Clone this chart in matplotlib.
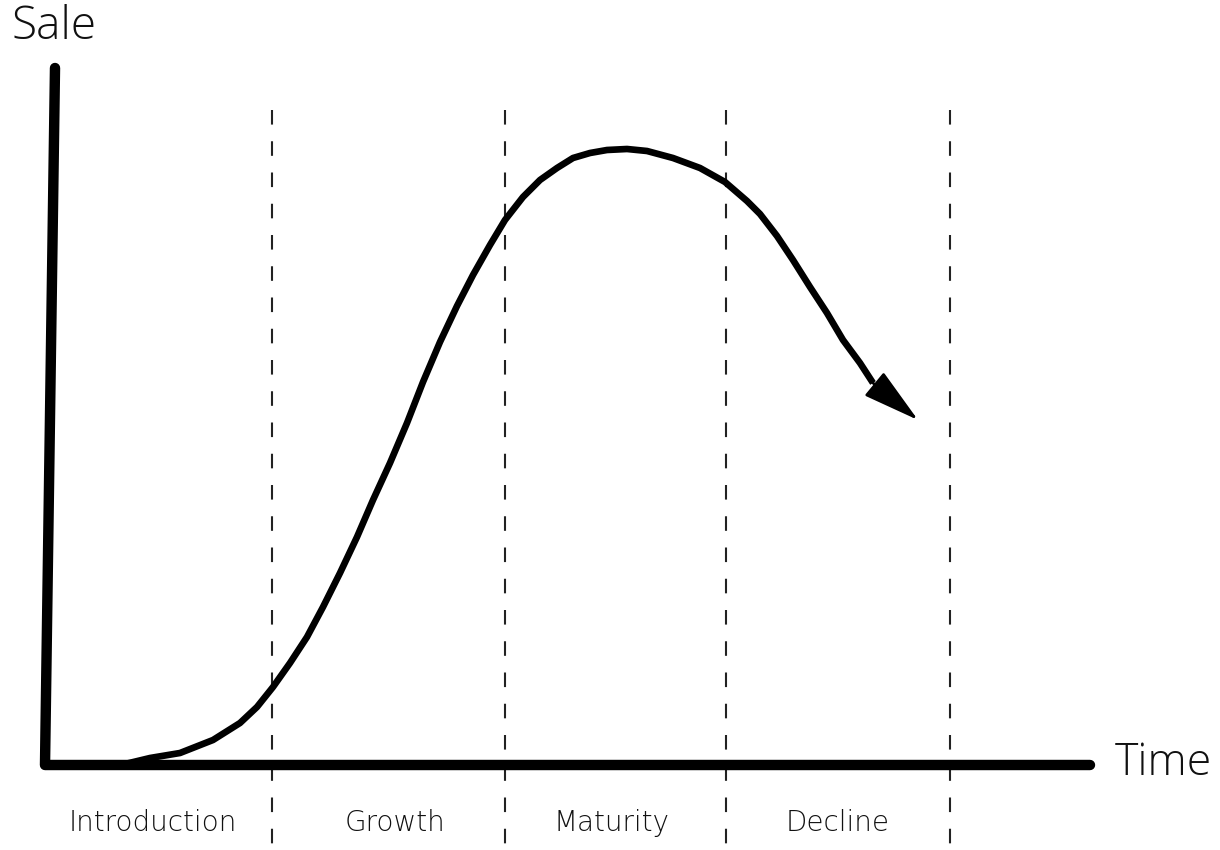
import matplotlib.pyplot as plt

# product life cycle: time / sales (origin = axis corner)
stages = ["Introduction", "Growth", "Maturity", "Decline"]
stage_edges = [227, 460, 681, 905]        # dashed separators on the time axis
stage_mid = [108, 350, 566, 793]          # label centres

curve_t = [80, 105, 135, 168, 195, 212, 228, 245, 262, 278, 295, 312, 328, 345,
           362, 378, 395, 412, 428, 445, 460, 478, 495, 512, 528, 545, 562, 582,
           602, 628, 655, 680, 702, 715, 732, 748, 765, 782, 798, 815, 828]
curve_s = [1, 7, 12, 25, 42, 58, 78, 102, 128, 158, 192, 228, 265, 302,
           342, 383, 423, 459, 490, 520, 545, 568, 585, 597, 607, 612, 615, 616,
           614, 607, 597, 583, 564, 551, 529, 505, 478, 452, 425, 402, 382]
arrow_tip = (873, 345)

fig = plt.figure(figsize=(12.2, 8.5), dpi=100)
ax = fig.add_axes([0, 0, 1, 1])
ax.set_xlim(-45, 1175)
ax.set_ylim(-85, 765)
ax.axis("off")

# axes drawn by hand (the vertical one leans a little)
ax.plot([10, 0, 1045], [697, 0, 0], color="black", lw=7.5,
        solid_capstyle="round", solid_joinstyle="round", zorder=3)

# stage separators
for e in stage_edges:
    ax.plot([e, e], [655, -80], color="#222222", lw=1.5, dashes=(7, 8), zorder=1)

# sales curve + arrow head
ax.plot(curve_t, curve_s, color="black", lw=4.8, solid_capstyle="butt",
        solid_joinstyle="round", zorder=4)
ax.annotate("", xy=arrow_tip, xytext=(curve_t[-1], curve_s[-1]),
            arrowprops=dict(arrowstyle="-|>,head_length=3.6,head_width=0.95",
                            color="black", lw=2, shrinkA=0, shrinkB=0),
            zorder=5)

fam = ["Open Sans", "DejaVu Sans"]
ax.text(-33, 738, "Sale", fontsize=33, family=fam, fontweight="light",
        ha="left", va="center", color="#111111")
ax.text(1070, 1, "Time", fontsize=32, family=fam, fontweight="light",
        ha="left", va="center", color="#111111")

for name, m in zip(stages, stage_mid):
    ax.text(m, -58, name, fontsize=20, family=["DejaVu Sans"], fontweight="light",
            ha="center", va="center", color="#111111")

fig.savefig("out.png", dpi=100, facecolor="white")
